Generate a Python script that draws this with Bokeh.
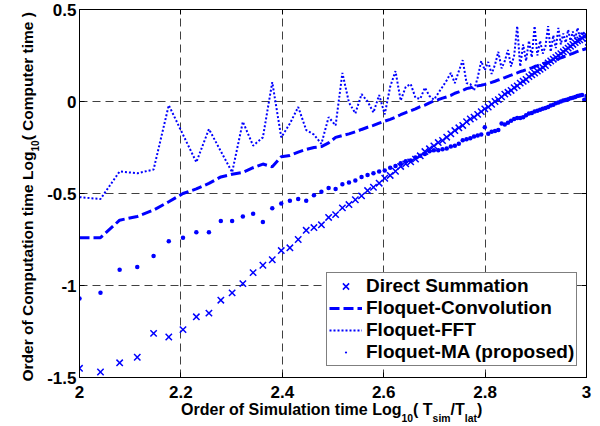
import numpy as np
from bokeh.plotting import figure
from bokeh.models import LinearAxis, FixedTicker, NumeralTickFormatter, Range1d
from bokeh.embed import file_html
from bokeh.resources import INLINE

# ---------------- data ----------------
t_ratio = list(range(100, 1001, 10))          # T_sim / T_lat
log_t = np.log10(t_ratio)

direct = [
    -1.45, -1.47, -1.42, -1.39, -1.26, -1.28, -1.24, -1.17, -1.15, -1.08,
    -1.04, -0.99, -0.93, -0.89, -0.86, -0.81, -0.795, -0.75, -0.70, -0.685,
    -0.67, -0.63, -0.615, -0.578, -0.56, -0.534, -0.513, -0.484, -0.466, -0.444,
    -0.417, -0.402, -0.379, -0.353, -0.339, -0.328, -0.313, -0.295, -0.272, -0.257,
    -0.241, -0.223, -0.212, -0.194, -0.176, -0.158, -0.143, -0.13, -0.11, -0.095,
    -0.085, -0.07, -0.055, -0.04, -0.03, -0.015, 0.0, 0.01, 0.025, 0.04,
    0.05, 0.06, 0.075, 0.085, 0.1, 0.11, 0.12, 0.135, 0.145, 0.155,
    0.165, 0.175, 0.185, 0.195, 0.21, 0.22, 0.23, 0.24, 0.25, 0.26,
    0.27, 0.28, 0.29, 0.30, 0.31, 0.32, 0.33, 0.335, 0.345, 0.355,
    0.36]

convolution = [
    -0.74, -0.74, -0.645, -0.625, -0.59, -0.545, -0.50, -0.475, -0.445, -0.41,
    -0.395, -0.385, -0.36, -0.34, -0.355, -0.30, -0.293, -0.275, -0.26, -0.25,
    -0.245, -0.225, -0.195, -0.185, -0.176, -0.165, -0.152, -0.14, -0.13, -0.118,
    -0.107, -0.097, -0.085, -0.072, -0.06, -0.05, -0.04, -0.028, -0.02, -0.008,
    0.003, 0.01, 0.018, 0.025, 0.033, 0.045, 0.052, 0.06, 0.07, 0.075,
    0.08, 0.085, 0.088, 0.093, 0.098, 0.104, 0.11, 0.117, 0.123, 0.13,
    0.137, 0.143, 0.15, 0.156, 0.162, 0.167, 0.172, 0.178, 0.183, 0.19,
    0.195, 0.2, 0.205, 0.21, 0.214, 0.218, 0.222, 0.227, 0.232, 0.237,
    0.242, 0.247, 0.252, 0.257, 0.262, 0.267, 0.272, 0.277, 0.28, 0.284,
    0.288]

fft = [
    -0.52, -0.53, -0.38, -0.39, -0.37, -0.02, -0.18, -0.33, -0.15, -0.27,
    -0.385, -0.11, -0.24, -0.195, 0.105, -0.195, -0.12, -0.03, -0.155, -0.18,
    -0.23, -0.085, -0.13, 0.155, -0.005, -0.065, 0.04, 0.0, -0.06, 0.035,
    -0.07, 0.08, 0.165, 0.005, 0.08, 0.095, 0.02, 0.015, 0.075, 0.03,
    0.01, 0.045, 0.08, 0.115, 0.155, 0.1, 0.165, 0.225, 0.1, 0.095,
    0.06, 0.13, 0.22, 0.17, 0.215, 0.15, 0.2, 0.27, 0.18, 0.22,
    0.28, 0.19, 0.25, 0.41, 0.19, 0.31, 0.22, 0.33, 0.24, 0.41,
    0.25, 0.33, 0.26, 0.30, 0.41, 0.27, 0.36, 0.29, 0.40, 0.31,
    0.37, 0.32, 0.39, 0.33, 0.38, 0.34, 0.40, 0.35, 0.38, 0.36,
    0.30]

moving_avg = [
    -1.07, -1.04, -0.915, -0.90, -0.84, -0.76, -0.74, -0.71, -0.71, -0.65,
    -0.65, -0.625, -0.61, -0.655, -0.58, -0.555, -0.54, -0.53, -0.54, -0.51,
    -0.49, -0.47, -0.475, -0.45, -0.44, -0.43, -0.41, -0.40, -0.39, -0.38,
    -0.375, -0.36, -0.35, -0.335, -0.325, -0.32, -0.305, -0.295, -0.285, -0.27,
    -0.265, -0.265, -0.26, -0.255, -0.245, -0.24, -0.23, -0.21, -0.205, -0.20,
    -0.19, -0.185, -0.18, -0.14, -0.175, -0.165, -0.16, -0.155, -0.12, -0.125,
    -0.115, -0.105, -0.095, -0.09, -0.09, -0.085, -0.075, -0.065, -0.062, -0.055,
    -0.05, -0.045, -0.04, -0.035, -0.03, -0.022, -0.018, -0.01, -0.005, 0.0,
    0.005, 0.008, 0.012, 0.018, 0.02, 0.025, 0.03, 0.032, 0.035, 0.01,
    0.03]

x_ticks = [2.0, 2.2, 2.4, 2.6, 2.8, 3.0]
y_ticks = [-1.5, -1.0, -0.5, 0.0, 0.5]

series_names = ["Direct Summation", "Floquet-Convolution", "Floquet-FFT", "Floquet-MA (proposed)"]

# axis title pieces: (text, is_subscript)
x_title = [("Order of Simulation time Log", False), ("10", True), ("( T", False),
           ("sim", True), ("/T", False), ("lat", True), (" )", False)]
y_title = [("Order of Computation time Log", False), ("10", True), ("( Computer time )", False)]

# ---------------- layout constants ----------------
FL, FT, FW, FH = 79, 9, 507, 368      # frame left/top/width/height in px
FONT = "Liberation Sans"
BLUE = "#0000ff"

p = figure(width=600, height=426, frame_width=FW, frame_height=FH,
           min_border_left=FL, min_border_right=600 - FL - FW,
           min_border_top=FT, min_border_bottom=426 - FT - FH,
           x_range=Range1d(2, 3), y_range=Range1d(-1.5, 0.5),
           output_backend="svg", toolbar_location=None)
p.background_fill_color = "white"
p.border_fill_color = "white"
p.outline_line_color = "black"
p.outline_line_width = 1

xt = FixedTicker(ticks=x_ticks)
yt = FixedTicker(ticks=y_ticks)
fmt = NumeralTickFormatter(format="0.[0]")

for ax, tk in ((p.xaxis[0], xt), (p.yaxis[0], yt)):
    ax.ticker = tk
    ax.formatter = fmt
    ax.major_tick_in = 5
    ax.major_tick_out = 0
    ax.minor_tick_line_color = None
    ax.axis_line_color = "black"
    ax.major_tick_line_color = "black"
    ax.major_label_text_font = FONT
    ax.major_label_text_font_style = "bold"
    ax.major_label_text_font_size = "17px"
    ax.major_label_text_color = "black"
p.xaxis[0].major_label_standoff = 8
p.yaxis[0].major_label_standoff = 3

for loc, tk in (("above", xt), ("right", yt)):
    ax = LinearAxis(ticker=tk, major_label_text_font_size="0px", major_label_text_color=None,
                    major_label_standoff=0, major_tick_in=5, major_tick_out=0,
                    minor_tick_line_color=None, axis_line_color="black")
    p.add_layout(ax, loc)

for g, tk in ((p.xgrid[0], xt), (p.ygrid[0], yt)):
    g.ticker = tk
    g.grid_line_color = "#404040"
    g.grid_line_dash = "8 5"
    g.grid_line_width = 1

# ---------------- series ----------------
p.scatter(log_t, direct, marker="x", size=9, line_color=BLUE, line_width=1.5,
          legend_label=series_names[0])
p.line(log_t, convolution, line_color=BLUE, line_width=3, line_dash="10 4",
       legend_label=series_names[1])
p.line(log_t, fft, line_color=BLUE, line_width=2, line_dash="2 2",
       legend_label=series_names[2])
p.scatter(log_t, moving_avg, marker="dot", size=18, line_color=BLUE, fill_color=BLUE,
          line_width=1, legend_label=series_names[3])

lg = p.legend[0]
lg.location = (247, 11)
lg.label_text_font = FONT
lg.label_text_font_style = "bold"
lg.label_text_font_size = "19px"
lg.label_text_color = "black"
lg.border_line_color = "black"
lg.border_line_width = 1
lg.background_fill_color = "white"
lg.background_fill_alpha = 1
lg.padding = 2
lg.spacing = 0
lg.label_height = 22
lg.glyph_height = 22
lg.glyph_width = 33
lg.label_standoff = 4
lg.margin = 0

# ---------------- axis titles (real text, on label-only axes) ----------------
AW = {' ': 278, '(': 333, ')': 333, '/': 278, '0': 556, '1': 556, 'C': 722, 'L': 611,
      'O': 778, 'S': 667, 'T': 611, 'a': 556, 'd': 611, 'e': 556, 'f': 333, 'g': 611,
      'i': 278, 'l': 278, 'm': 889, 'n': 611, 'o': 611, 'p': 611, 'r': 389, 's': 556,
      't': 333, 'u': 611}


def tw(s, size):
    return sum(AW.get(c, 556) for c in s) / 1000.0 * size


def px2x(px):
    return 2 + (px - FL) / FW


def py2y(py):
    return 0.5 - (py - FT) / FH * 2.0


SUB = 0.65


def title_axis(centers, texts, size, standoff, orient):
    centers = [float(c) for c in centers]
    return LinearAxis(ticker=FixedTicker(ticks=centers),
                      major_label_overrides=dict(zip(centers, texts)),
                      major_label_text_font=FONT, major_label_text_font_style="bold",
                      major_label_text_font_size=f"{size:.1f}px", major_label_text_color="black",
                      major_label_standoff=standoff, major_label_orientation=orient,
                      major_tick_line_color=None, minor_tick_line_color=None,
                      axis_line_color=None)


# x title
FX = 16.0
cur = 401.0 - tw(x_title[0][0], FX)
main_c, main_t, sub_c, sub_t = [], [], [], []
for txt, sub in x_title:
    fs = FX * SUB if sub else FX
    w = tw(txt, fs)
    (sub_c if sub else main_c).append(px2x(cur + w / 2))
    (sub_t if sub else main_t).append(txt)
    cur += w
p.add_layout(title_axis(main_c, main_t, FX, -6, "horizontal"), "below")
p.add_layout(title_axis(sub_c, sub_t, FX * SUB, -14, "horizontal"), "below")

# y title (reads bottom to top)
FY = 15.5
cur = 381.0
main_c, main_t, sub_c, sub_t = [], [], [], []
for txt, sub in y_title:
    fs = FY * SUB if sub else FY
    w = tw(txt, fs)
    (sub_c if sub else main_c).append(py2y(cur - w / 2))
    (sub_t if sub else main_t).append(txt)
    cur -= w
p.add_layout(title_axis(sub_c, sub_t, FY * SUB, -1, "vertical"), "left")
p.add_layout(title_axis(main_c, main_t, FY, -14, "vertical"), "left")

open("out.html", "w").write(file_html(p, INLINE))
